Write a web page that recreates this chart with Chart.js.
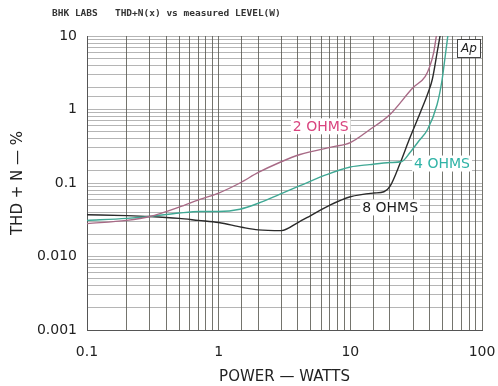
<!DOCTYPE html>
<html>
<head>
<meta charset="utf-8">
<script src="https://cdn.jsdelivr.net/npm/chart.js@4.4.1/dist/chart.umd.min.js"></script>
<style>
  body { margin: 0; background: #fff; }
  #wrap { width: 498px; height: 386px; }
</style>
</head>
<body>
<div id="wrap"><canvas id="thd" width="498" height="386"></canvas></div>
<script>
// power in watts / THD+N in percent
const power2 = [0.1, 0.2, 0.3, 0.5, 0.72, 1, 1.45, 2, 2.9, 4.15, 7.3, 10, 14, 20, 30, 37, 40, 43, 45];
const thd2   = [0.028, 0.031, 0.035, 0.047, 0.060, 0.073, 0.10, 0.139, 0.19, 0.244, 0.31, 0.355, 0.53, 0.855, 1.99, 2.8, 3.8, 6.0, 10];

const power4 = [0.1, 0.2, 0.3, 0.5, 0.72, 1, 1.45, 2, 2.9, 4.15, 6.6, 10, 14, 20, 24.6, 28.4, 33, 38.5, 45.6, 49.8, 52.5, 55];
const thd4   = [0.031, 0.033, 0.035, 0.039, 0.041, 0.041, 0.044, 0.053, 0.07, 0.092, 0.13, 0.165, 0.178, 0.19, 0.196, 0.26, 0.37, 0.53, 1.17, 2.56, 5.26, 10];

const power8 = [0.1, 0.2, 0.3, 0.5, 0.7, 1, 1.5, 2, 3, 4, 5, 7, 10, 15, 18, 20, 24, 28, 34, 39, 42, 46, 48];
const thd8   = [0.037, 0.036, 0.035, 0.033, 0.031, 0.029, 0.025, 0.023, 0.0225, 0.029, 0.036, 0.05, 0.065, 0.073, 0.076, 0.09, 0.19, 0.39, 0.91, 1.7, 2.6, 6.5, 10];

const xLabels = {0.1: '0.1', 1: '1', 10: '10', 100: '100'};
const yLabels = {0.001: '0.001', 0.01: '0.010', 0.1: '0.1', 1: '1', 10: '10'};

// curve names, placed in data space (watts, %)
const curveNames = [
  {text: '2 OHMS', x: 3.66, y: 0.59, color: '#d9457f'},
  {text: '4 OHMS', x: 30.5, y: 0.184, color: '#2fb3a6'},
  {text: '8 OHMS', x: 12.3, y: 0.0465, color: '#1c1c1c'}
];

function pairs(xs, ys) {
  return xs.map((x, i) => ({x: x, y: ys[i]}));
}

function decadeLabel(map, v) {
  for (const k in map) {
    if (Math.abs(Number(k) - v) < Number(k) * 1e-6) return map[k];
  }
  return '';
}

const extras = {
  id: 'extras',
  afterDraw(chart) {
    const c = chart.ctx;
    const a = chart.chartArea;
    const sx = chart.scales.x, sy = chart.scales.y;
    c.save();
    // header line
    c.fillStyle = '#333';
    c.font = 'bold 9.5px "DejaVu Sans Mono"';
    c.textBaseline = 'middle';
    c.fillText('BHK LABS   THD+N(x) vs measured LEVEL(W)', 52, 14);
    // Ap box
    c.strokeStyle = '#444';
    c.lineWidth = 1;
    c.fillStyle = '#fff';
    c.fillRect(a.right - 24, a.top + 3, 23, 18);
    c.strokeRect(a.right - 24.5, a.top + 3.5, 23, 18);
    c.fillStyle = '#222';
    c.font = 'italic 12px "DejaVu Sans"';
    c.textAlign = 'center';
    c.fillText('Ap', a.right - 13, a.top + 12.5);
    // curve names
    c.textAlign = 'left';
    c.font = '14px "DejaVu Sans"';
    curveNames.forEach(n => {
      const px = sx.getPixelForValue(n.x), py = sy.getPixelForValue(n.y);
      const w = c.measureText(n.text).width;
      c.fillStyle = '#fff';
      c.fillRect(px - 2, py - 8, w + 4, 16);
      c.fillStyle = n.color;
      c.fillText(n.text, px, py + 1);
    });
    c.restore();
  }
};

new Chart(document.getElementById('thd'), {
  type: 'line',
  data: {
    datasets: [
      {label: '2 OHMS', data: pairs(power2, thd2), borderColor: '#a86a86', borderWidth: 1.4},
      {label: '4 OHMS', data: pairs(power4, thd4), borderColor: '#3fa894', borderWidth: 1.4},
      {label: '8 OHMS', data: pairs(power8, thd8), borderColor: '#2a2a2a', borderWidth: 1.4}
    ]
  },
  options: {
    responsive: false,
    animation: false,
    elements: {
      point: {radius: 0},
      line: {cubicInterpolationMode: 'monotone', fill: false}
    },
    layout: {padding: {top: 36, right: 16, left: 0, bottom: 0}},
    plugins: {legend: {display: false}, tooltip: {enabled: false}},
    scales: {
      x: {
        type: 'logarithmic',
        min: 0.1,
        max: 100,
        afterFit(s) { s.height = 56; s.paddingLeft = 0; s.paddingRight = 0; },
        border: {color: '#555'},
        grid: {color: 'rgba(70,70,60,0.75)', lineWidth: 1, drawTicks: false},
        ticks: {
          autoSkip: false, maxRotation: 0, padding: 14,
          color: '#222', font: {family: 'DejaVu Sans', size: 14},
          callback: v => decadeLabel(xLabels, v)
        },
        title: {display: true, text: 'POWER — WATTS', color: '#222',
                font: {family: 'DejaVu Sans', size: 15}, padding: {top: 2, bottom: 0}}
      },
      y: {
        type: 'logarithmic',
        min: 0.001,
        max: 10,
        afterFit(s) { s.width = 87; s.paddingTop = 0; s.paddingBottom = 0; },
        border: {color: '#555'},
        grid: {color: 'rgba(90,90,90,0.45)', lineWidth: 1, drawTicks: false,
               borderDash: [1, 2]},
        ticks: {
          autoSkip: false, padding: 10,
          color: '#222', font: {family: 'DejaVu Sans', size: 14},
          callback: v => decadeLabel(yLabels, v)
        },
        title: {display: true, text: 'THD + N — %', color: '#222',
                font: {family: 'DejaVu Sans', size: 15}, padding: {top: 9, bottom: 0}}
      }
    }
  },
  plugins: [extras]
});
</script>
</body>
</html>
